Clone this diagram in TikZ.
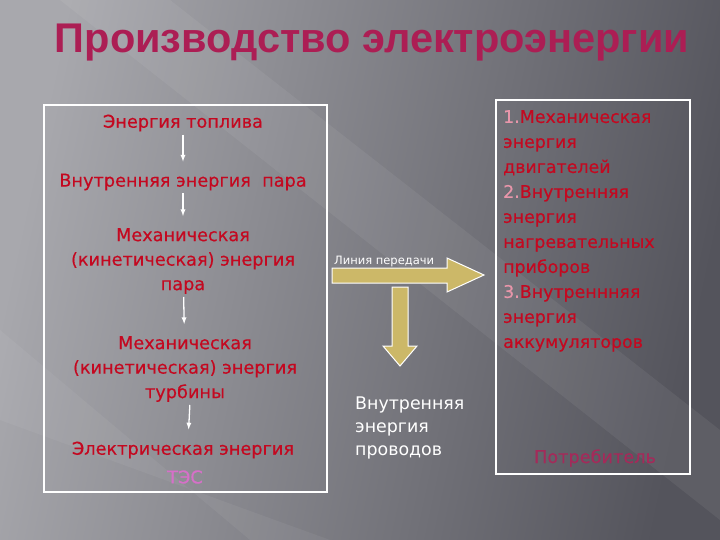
\documentclass[tikz,border=0pt]{standalone}
\usepackage{fontspec}
\setmainfont{DejaVu Sans}
\newfontfamily\headfont{Liberation Sans}
\newfontfamily\stagefont{DejaVu Sans}[FakeBold=0.35]
\usetikzlibrary{arrows,positioning}
\definecolor{energyred}{RGB}{196,8,32}
\definecolor{headred}{RGB}{172,30,84}
\definecolor{tespink}{RGB}{214,112,200}
\definecolor{numpink}{RGB}{232,150,170}
\definecolor{userred}{RGB}{165,42,90}
\definecolor{khaki}{RGB}{204,184,104}
\definecolor{bglight}{RGB}{168,168,173}
\definecolor{bgdark}{RGB}{84,84,92}

\tikzset{
  stage/.style={text=energyred,align=center,inner sep=0pt,font=\stagefont\fontsize{17.7}{24.5}\selectfont},
  flow/.style={->,white,line width=1.3pt,shorten <=3pt,shorten >=12pt},
  frame/.style={draw=white,line width=1.6pt},
  bigarrow/.style={draw=white,line width=1pt,fill=khaki}
}

\begin{document}
\begin{tikzpicture}[>=latex,x=1pt,y=-1pt]
  \useasboundingbox (0,0) rectangle (720,540);
  % background
  \shade[top color=bglight,bottom color=bgdark,shading angle=78] (0,0) rectangle (720,540);
  \fill[white,opacity=0.06] (60,0) -- (170,0) -- (720,430) -- (720,520) -- cycle;
  \fill[white,opacity=0.05] (0,330) -- (0,420) -- (330,540) -- (250,540) -- cycle;

  % title
  \node[text=headred] (title) at (372,43) {\headfont\bfseries\fontsize{41.5}{42}\selectfont Производство электроэнергии};

  % power station
  \draw[frame] (44,105) rectangle (327,492);
  \node[stage] (fuel)  at (183,123) {Энергия топлива};
  \node[stage] (steam) at (183,182) {Внутренняя энергия\ \ пара};
  \node[stage] (mech)  at (183,261) {Механическая\\(кинетическая) энергия\\пара};
  \node[stage] (turb)  at (185,369) {Механическая\\(кинетическая) энергия\\турбины};
  \node[stage] (elec)  at (183,450) {Электрическая энергия};
  \node[stage,text=tespink] (tes) at (185,477) {ТЭС};
  \draw[flow] (fuel) -- (steam);
  \draw[flow] (steam) -- (mech);
  \draw[flow] (mech) -- (turb);
  \draw[flow] ([xshift=5pt]turb.south) -- ([xshift=5pt]elec.north);

  % transmission line
  \draw[bigarrow] (332,268) -- (447,268) -- (447,258) -- (484,275) -- (447,292)
    -- (447,283) -- (332,283) -- cycle;
  \draw[bigarrow] (392,287) -- (408,287) -- (408,346) -- (417,346) -- (400,366)
    -- (383,346) -- (392,346) -- cycle;
  \node[white,anchor=base west,inner sep=0pt,font=\fontsize{11.5}{12}\selectfont] (line) at (334,264) {Линия передачи};
  \node[white,anchor=north west,align=left,inner sep=0pt,font=\fontsize{17.4}{23}\selectfont] (wires) at (355,397) {Внутренняя\\энергия\\проводов};

  % consumer
  \draw[frame] (496,100) rectangle (690,474);
  \node[stage,anchor=north west,align=left,font=\stagefont\fontsize{17.4}{25}\selectfont] (uses) at (503,110)
    {\textcolor{numpink}{1.}Механическая\\энергия\\двигателей\\\textcolor{numpink}{2.}Внутренняя\\энергия\\нагревательных\\приборов\\\textcolor{numpink}{3.}Внутреннняя\\энергия\\аккумуляторов};
  \node[stage,text=userred] (user) at (595,458) {Потребитель};
\end{tikzpicture}
\end{document}
